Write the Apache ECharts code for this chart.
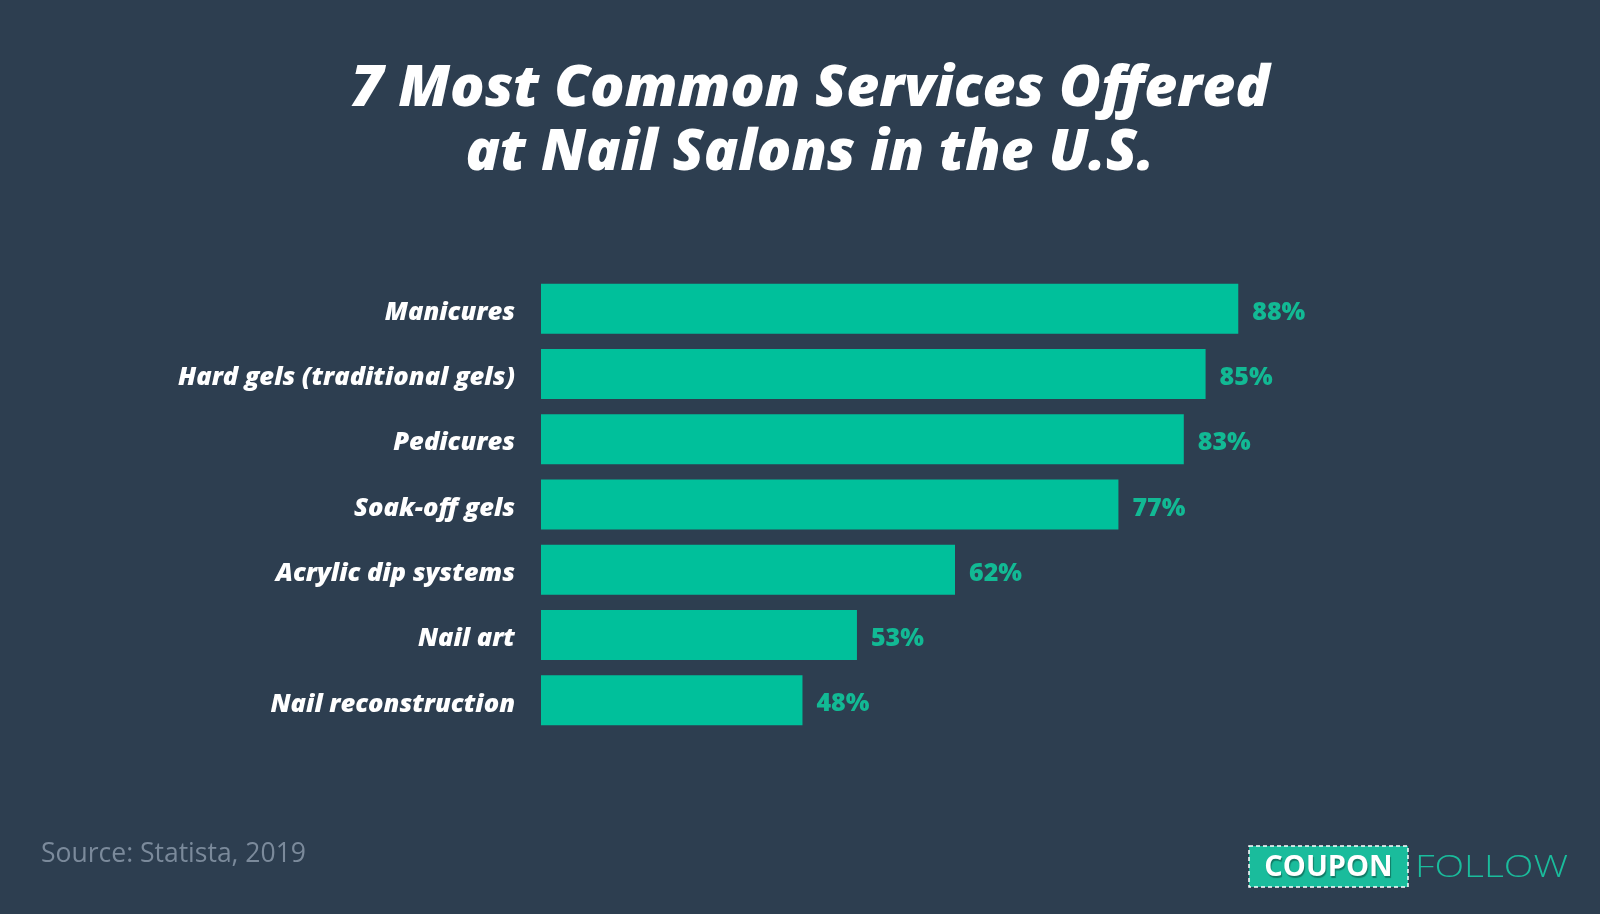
<!DOCTYPE html>
<html>
<head>
<meta charset="utf-8">
<script src="https://cdn.jsdelivr.net/npm/echarts@6/dist/echarts.min.js"></script>
<style>
html,body{margin:0;padding:0;background:#2d3e50;}
#chart{width:1600px;height:914px;}
</style>
</head>
<body>
<div id="chart"></div>
<script>
const categories = ["Manicures", "Hard gels (traditional gels)", "Pedicures", "Soak-off gels", "Acrylic dip systems", "Nail art", "Nail reconstruction"];
const values = [88, 85, 83, 77, 62, 53, 48];
const titleLines = ["7 Most Common Services Offered", "at Nail Salons in the U.S."];
const sourceText = "Source: Statista, 2019";

const chart = echarts.init(document.getElementById('chart'));
const option = {
  backgroundColor: '#2d3e50',
  animation: false,
  grid: { left: 541, right: 231, top: 276, height: 457, containLabel: false },
  xAxis: { type: 'value', min: 24, max: 100, show: false },
  yAxis: {
    type: 'category', data: categories, inverse: true,
    axisLine: { show: false }, axisTick: { show: false },
    axisLabel: {
      margin: 26,
      formatter: function (v) { return '{c|' + v + '}'; },
      rich: {
        c: {
          color: '#ffffff', fontFamily: 'Open Sans', fontWeight: 800, fontStyle: 'italic',
          fontSize: 25.5, padding: [8, 0, 0, 0]
        }
      }
    }
  },
  series: [{
    type: 'bar', data: values, barWidth: 50,
    itemStyle: { color: '#00c09b' },
    label: {
      show: true, position: 'right', distance: 14, offset: [0, 4],
      formatter: '{c}%', color: '#12b994', fontFamily: 'Open Sans', fontWeight: 800,
      fontSize: 25
    }
  }],
  graphic: [
    { type: 'text', x: 810, y: 118, style: { text: titleLines[0], fill: '#ffffff', font: 'italic 800 57px "Open Sans"', textAlign: 'center', textVerticalAlign: 'bottom' } },
    { type: 'text', x: 810, y: 182, style: { text: titleLines[1], fill: '#ffffff', font: 'italic 800 57px "Open Sans"', textAlign: 'center', textVerticalAlign: 'bottom' } },
    { type: 'text', x: 41, y: 868, style: { text: sourceText, fill: '#7b8a9b', font: '26.5px "Open Sans"', textAlign: 'left', textVerticalAlign: 'bottom' } },
    { type: 'rect', shape: { x: 1249, y: 846, width: 159, height: 41 }, style: { fill: '#1abc9c', stroke: '#ffffff', lineWidth: 1.5, lineDash: [4, 3] } },
    { type: 'text', x: 1328.5, y: 868, style: { text: 'COUPON', fill: '#ffffff', font: 'bold 29px "Open Sans"', textAlign: 'center', textVerticalAlign: 'middle', textShadowColor: 'rgba(0,0,0,0.35)', textShadowOffsetX: 1, textShadowOffsetY: 2, textShadowBlur: 1 } },
    { type: 'text', x: 1415, y: 868, scaleX: 1.25, style: { text: 'FOLLOW', fill: '#1abc9c', font: '300 31px "Open Sans"', textAlign: 'left', textVerticalAlign: 'middle' } }
  ]
};
chart.setOption(option);
</script>
</body>
</html>
